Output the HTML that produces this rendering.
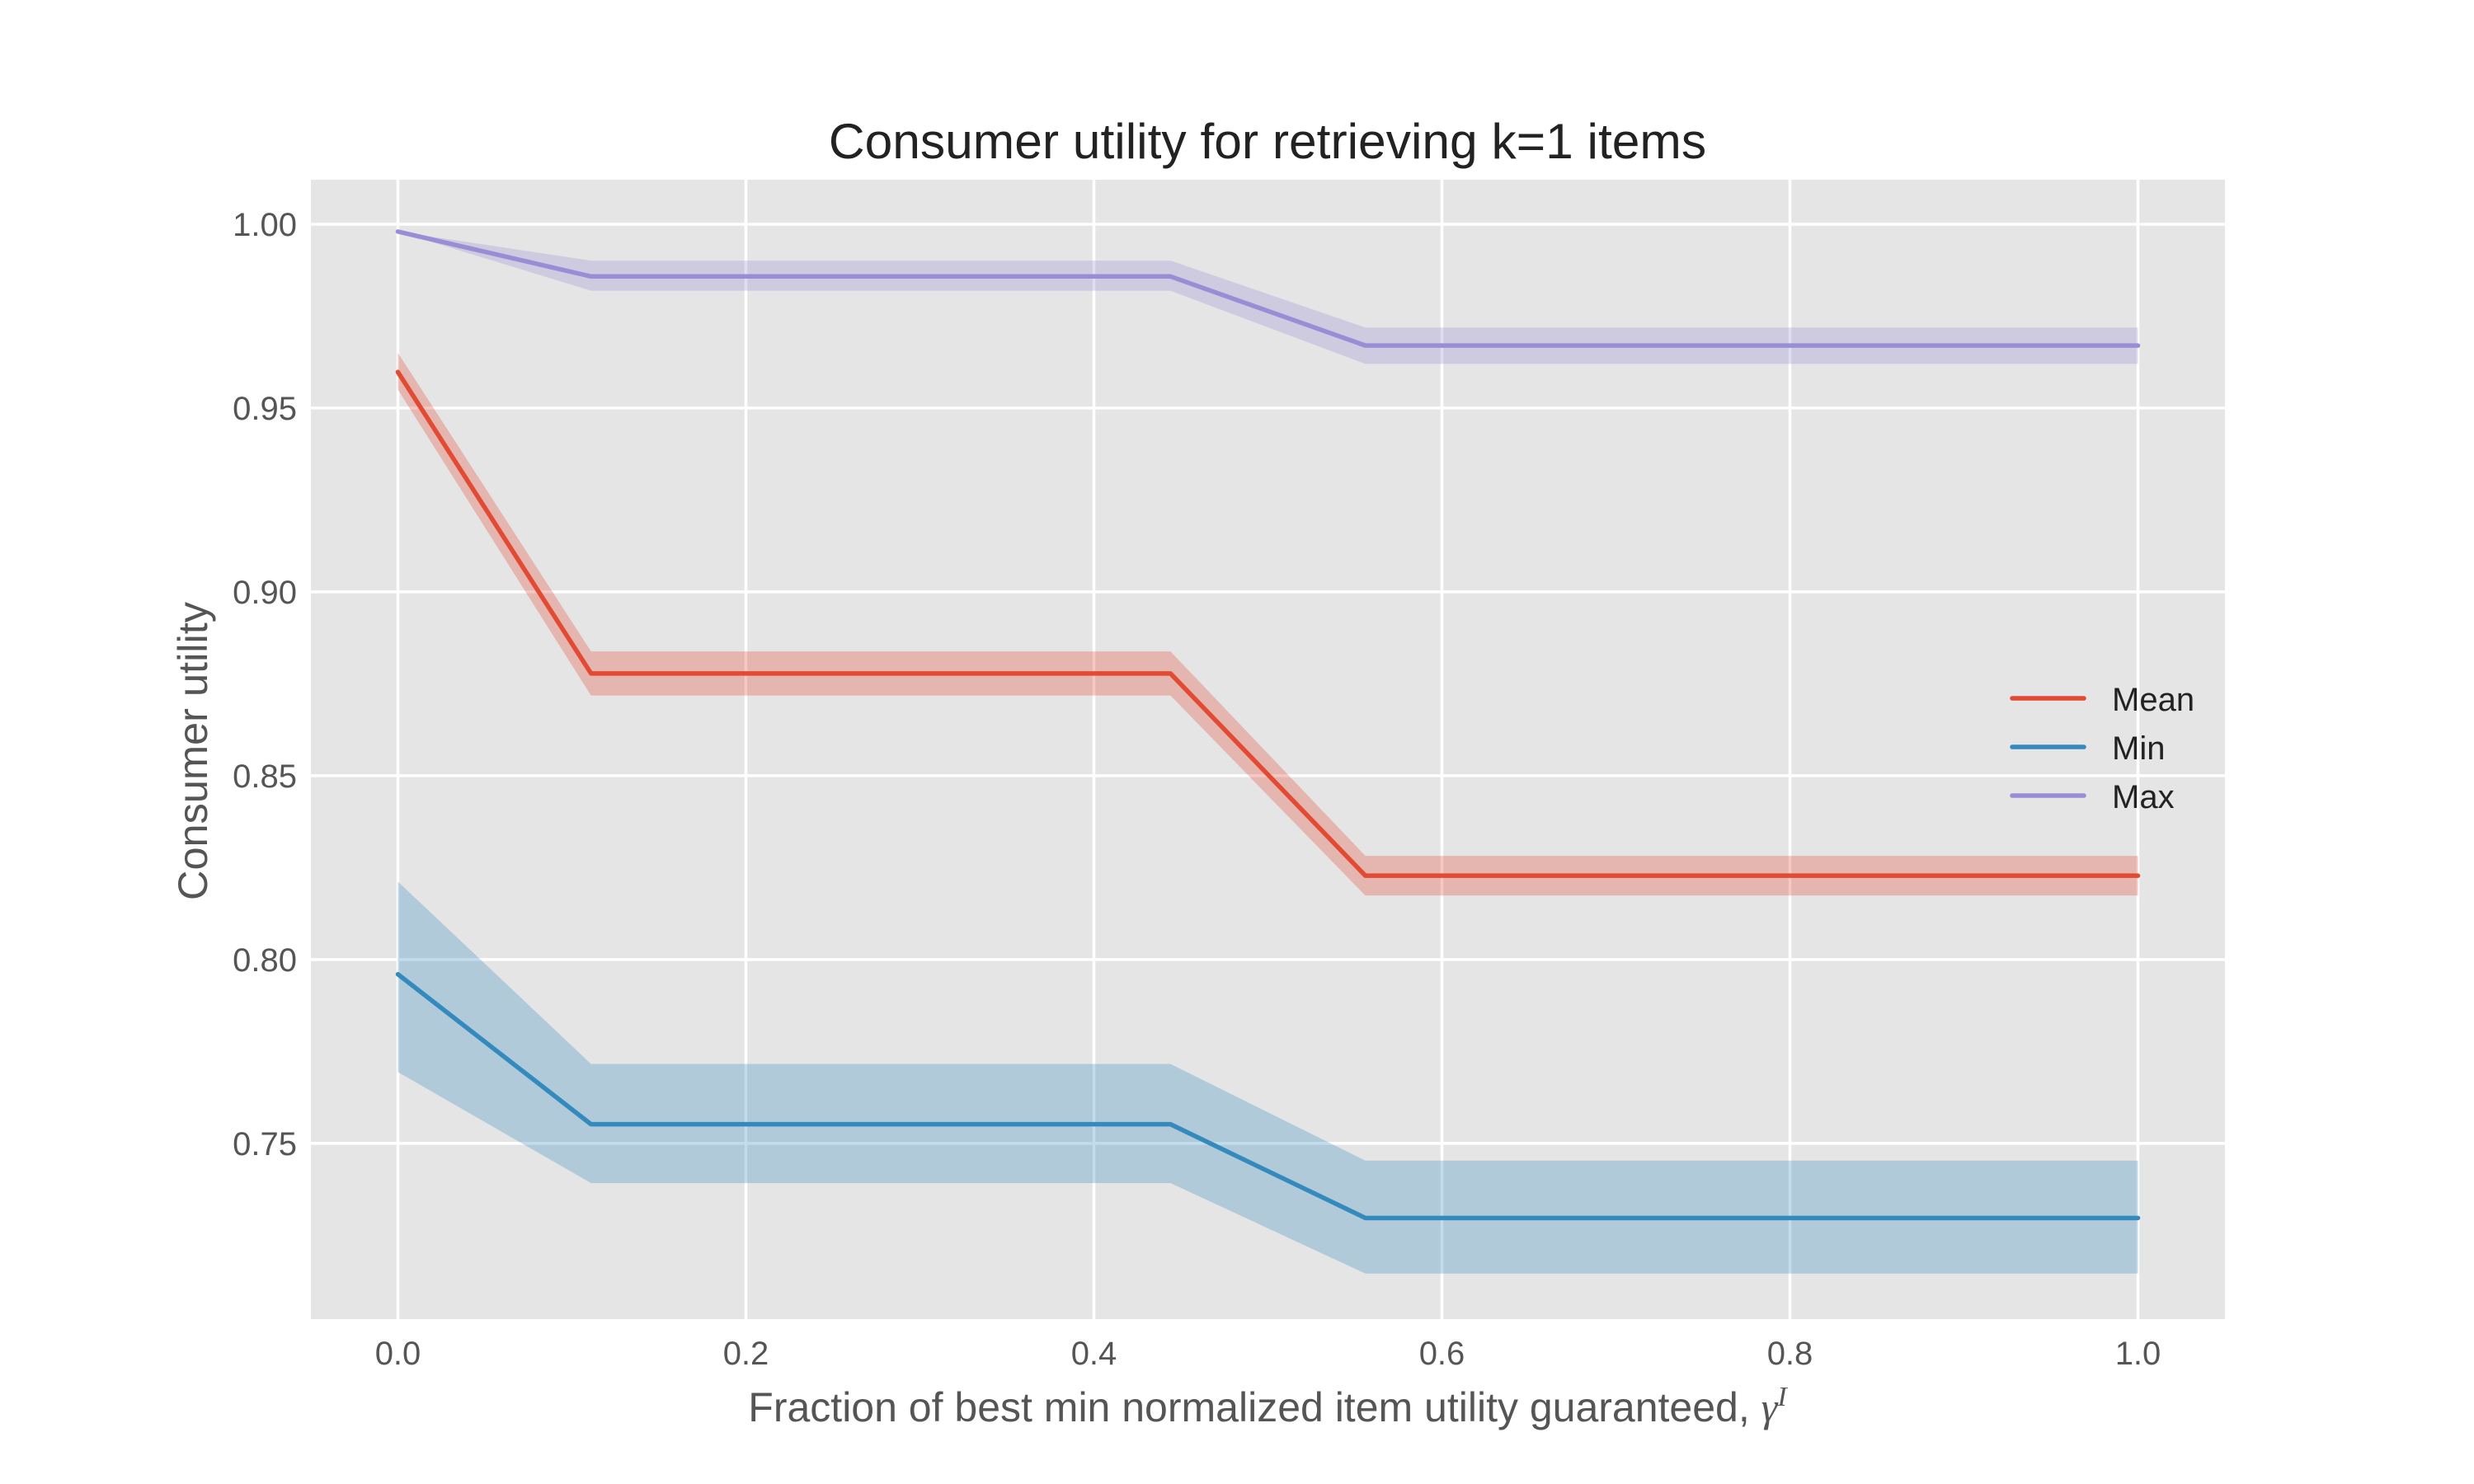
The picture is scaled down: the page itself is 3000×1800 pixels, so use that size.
<!DOCTYPE html>
<html><head><meta charset="utf-8"><style>
html,body{margin:0;padding:0;background:#fff}
svg{display:block;font-family:"Liberation Sans",Arial,sans-serif}
</style></head><body>
<svg id="chart" width="3000" height="1800" viewBox="0 0 3000 1800">
<rect x="377" y="218" width="2321" height="1382" fill="#e5e5e5"/>
<g id="grid"></g>
<g id="bands"></g>
<g id="lines"></g>
<g id="ticks"></g>
<text x="1537" y="192" text-anchor="middle" font-size="60.5" fill="#222">Consumer utility for retrieving k=1 items</text>
<text x="1537" y="1724" text-anchor="middle" font-size="50" fill="#555">Fraction of best min normalized item utility guaranteed, <tspan font-family="Liberation Serif" font-style="italic">γ</tspan><tspan font-family="Liberation Serif" font-style="italic" font-size="34" dy="-19">I</tspan></text>
<text transform="translate(251,911) rotate(-90)" text-anchor="middle" font-size="50.5" fill="#555">Consumer utility</text>
<g id="legend"></g>
</svg>
<script>
const xs = [0, 0.111, 0.444, 0.556, 1.0];
const meanVals = [0.9598, 0.8778, 0.8778, 0.8228, 0.8228];
const meanLo = [0.9550, 0.8718, 0.8718, 0.8174, 0.8174];
const meanHi = [0.9650, 0.8838, 0.8838, 0.8282, 0.8282];
const minVals = [0.7960, 0.7552, 0.7552, 0.7297, 0.7297];
const minLo = [0.7694, 0.7392, 0.7392, 0.7146, 0.7146];
const minHi = [0.8212, 0.7716, 0.7716, 0.7453, 0.7453];
const maxVals = [0.9980, 0.9858, 0.9858, 0.9670, 0.9670];
const maxLo = [0.9980, 0.9819, 0.9819, 0.9620, 0.9620];
const maxHi = [0.9980, 0.9901, 0.9901, 0.9719, 0.9719];
const xTicks = [0, 0.2, 0.4, 0.6, 0.8, 1.0];
const xTickLabels = ["0.0", "0.2", "0.4", "0.6", "0.8", "1.0"];
const yTicks = [0.75, 0.80, 0.85, 0.90, 0.95, 1.00];
const yTickLabels = ["0.75", "0.80", "0.85", "0.90", "0.95", "1.00"];
const seriesNames = ["Mean", "Min", "Max"];

const NS = "http://www.w3.org/2000/svg";
const X0 = 377, X1 = 2698, Y0 = 218, Y1 = 1600;
const xMin = -0.05, xMax = 1.05, yMin = 0.7022, yMax = 1.0121;
const sx = v => X0 + (v - xMin) / (xMax - xMin) * (X1 - X0);
const sy = v => Y1 - (v - yMin) / (yMax - yMin) * (Y1 - Y0);
function mk(tag, attrs, parent) { const e = document.createElementNS(NS, tag); for (const k in attrs) e.setAttribute(k, attrs[k]); parent.appendChild(e); return e; }

const grid = document.getElementById('grid'), ticks = document.getElementById('ticks');
xTicks.forEach((t, i) => {
  const l = mk('line', {x1: sx(t), x2: sx(t), y1: Y0, y2: Y1, stroke: '#fff', 'stroke-width': 3.5}, grid);
  
  
  const tx = mk('text', {x: sx(t), y: 1655, 'text-anchor': 'middle', 'font-size': 40, fill: '#555'}, ticks);
  tx.textContent = xTickLabels[i];
  
  
});
yTicks.forEach((t, i) => {
  const l = mk('line', {x1: X0, x2: X1, y1: sy(t), y2: sy(t), stroke: '#fff', 'stroke-width': 3.5}, grid);
  
  
  const tx = mk('text', {x: 360, y: sy(t) + 14, 'text-anchor': 'end', 'font-size': 40, fill: '#555'}, ticks);
  tx.textContent = yTickLabels[i];
  
  
});

const bands = document.getElementById('bands'), lines = document.getElementById('lines');
function series(vals, lo, hi, color, name) {
  let d = xs.map((x, i) => (i ? 'L' : 'M') + sx(x) + ',' + sy(hi[i])).join('');
  for (let i = xs.length - 1; i >= 0; i--) d += 'L' + sx(xs[i]) + ',' + sy(lo[i]);
  const b = mk('path', {d: d + 'Z', fill: color, 'fill-opacity': 0.3}, bands);
  
  
  const p = mk('path', {d: xs.map((x, i) => (i ? 'L' : 'M') + sx(x) + ',' + sy(vals[i])).join(''), fill: 'none', stroke: color, 'stroke-width': 5.5, 'stroke-linecap': 'round', 'stroke-linejoin': 'round'}, lines);
  
  
}
const colors = ['#e24a33', '#348abd', '#988ed5'];
series(meanVals, meanLo, meanHi, colors[0], 'mean');
series(minVals, minLo, minHi, colors[1], 'min');
series(maxVals, maxLo, maxHi, colors[2], 'max');

const lg = document.getElementById('legend');
seriesNames.forEach((n, i) => {
  const y = 847 + i * 59;
  const l = mk('line', {x1: 2440, x2: 2527, y1: y, y2: y, stroke: colors[i], 'stroke-width': 5.5, 'stroke-linecap': 'round'}, lg);
  
  
  const t = mk('text', {x: 2561, y: y + 15, 'font-size': 40, fill: '#222'}, lg);
  t.textContent = n;
  
  
});
</script>
</body></html>
